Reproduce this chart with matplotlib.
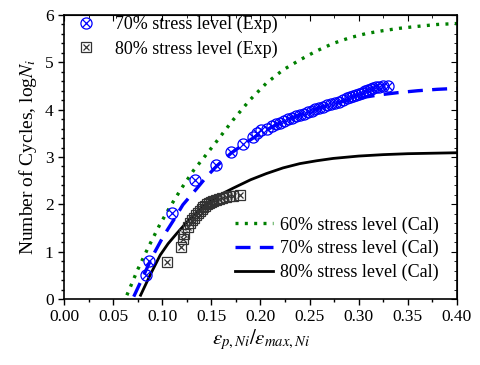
import matplotlib
matplotlib.use("Agg")
import matplotlib.pyplot as plt
from matplotlib.lines import Line2D
from matplotlib.ticker import MultipleLocator, FormatStrFormatter

plt.rcParams["font.family"] = ["Liberation Serif", "DejaVu Serif"]
plt.rcParams["mathtext.fontset"] = "stix"

# calculated curves (60 / 70 / 80 % stress level)
x_cal60 = [0.064, 0.075, 0.086, 0.097, 0.108, 0.120, 0.132, 0.144, 0.155, 0.172, 0.189,
           0.206, 0.223, 0.240, 0.257, 0.274, 0.291, 0.308, 0.325, 0.342, 0.360, 0.380, 0.400]
y_cal60 = [0.08, 0.62, 1.10, 1.55, 1.95, 2.35, 2.72, 3.03, 3.32, 3.78, 4.20,
           4.56, 4.84, 5.05, 5.24, 5.40, 5.52, 5.61, 5.67, 5.72, 5.76, 5.80, 5.82]

x_cal70 = [0.071, 0.080, 0.090, 0.101, 0.112, 0.121, 0.135, 0.145, 0.155, 0.170, 0.185, 0.200,
           0.215, 0.230, 0.245, 0.260, 0.275, 0.290, 0.305, 0.320, 0.340, 0.360, 0.380, 0.400]
y_cal70 = [0.05, 0.45, 0.90, 1.32, 1.68, 1.99, 2.33, 2.58, 2.80, 3.08, 3.30, 3.50,
           3.67, 3.81, 3.93, 4.04, 4.13, 4.20, 4.26, 4.31, 4.36, 4.40, 4.43, 4.45]

x_cal80 = [0.078, 0.088, 0.098, 0.106, 0.115, 0.124, 0.132, 0.143, 0.155, 0.172, 0.190,
           0.206, 0.223, 0.240, 0.257, 0.274, 0.300, 0.325, 0.350, 0.375, 0.400]
y_cal80 = [0.08, 0.52, 0.93, 1.17, 1.39, 1.60, 1.77, 1.97, 2.16, 2.34, 2.52,
           2.65, 2.77, 2.86, 2.92, 2.97, 3.02, 3.05, 3.07, 3.08, 3.09]

# experimental points
x_exp70 = [0.083, 0.087, 0.110, 0.133, 0.155, 0.170, 0.182, 0.192, 0.196, 0.201, 0.207,
           0.212, 0.216, 0.220, 0.224, 0.228, 0.232, 0.236, 0.240, 0.244, 0.248, 0.252,
           0.256, 0.260, 0.264, 0.268, 0.272, 0.276, 0.280, 0.284, 0.288, 0.291, 0.294,
           0.297, 0.300, 0.303, 0.306, 0.309, 0.312, 0.315, 0.318, 0.321, 0.325, 0.330]
y_exp70 = [0.51, 0.80, 1.81, 2.52, 2.83, 3.11, 3.27, 3.42, 3.50, 3.57, 3.60,
           3.66, 3.70, 3.72, 3.77, 3.80, 3.82, 3.86, 3.89, 3.91, 3.95, 3.98,
           4.02, 4.03, 4.06, 4.09, 4.12, 4.14, 4.17, 4.20, 4.24, 4.26, 4.28,
           4.31, 4.33, 4.36, 4.40, 4.41, 4.44, 4.45, 4.47, 4.48, 4.50, 4.50]

x_exp80 = [0.105, 0.119, 0.121, 0.122, 0.126, 0.128, 0.130, 0.132, 0.134, 0.136, 0.138,
           0.140, 0.142, 0.144, 0.146, 0.148, 0.150, 0.152, 0.155, 0.158, 0.161, 0.165,
           0.168, 0.172, 0.179]
y_exp80 = [0.79, 1.09, 1.26, 1.38, 1.52, 1.60, 1.66, 1.72, 1.78, 1.82, 1.86,
           1.90, 1.94, 1.97, 2.00, 2.03, 2.05, 2.08, 2.10, 2.12, 2.14, 2.16,
           2.17, 2.18, 2.20]

BLUE = "#0000ff"
GREY = "#333333"

fig = plt.figure(figsize=(4.8, 3.65), dpi=100)
ax = fig.add_axes([0.1333, 0.1808, 0.8187, 0.7781])

l60, = ax.plot(x_cal60, y_cal60, color="#008000", lw=2.4, ls=(0, (0.9, 1.9)))
l70, = ax.plot(x_cal70, y_cal70, color=BLUE, lw=2.4, ls=(0, (4.5, 2.8)))
l80, = ax.plot(x_cal80, y_cal80, color="black", lw=2.0)

ax.plot(x_exp70, y_exp70, ls="none", marker="o", ms=8, mfc="none", mec=BLUE, mew=0.9)
ax.plot(x_exp70, y_exp70, ls="none", marker="x", ms=5.5, mec=BLUE, mew=0.9)
ax.plot(x_exp80, y_exp80, ls="none", marker="s", ms=7, mfc="none", mec=GREY, mew=0.9)
ax.plot(x_exp80, y_exp80, ls="none", marker="x", ms=5, mec=GREY, mew=0.9)

ax.set_xlim(0, 0.40)
ax.set_ylim(0, 6)
ax.xaxis.set_major_locator(MultipleLocator(0.05))
ax.xaxis.set_minor_locator(MultipleLocator(0.025))
ax.yaxis.set_major_locator(MultipleLocator(1))
ax.yaxis.set_minor_locator(MultipleLocator(0.2))
ax.xaxis.set_major_formatter(FormatStrFormatter("%.2f"))
ax.tick_params(which="both", direction="out", labelsize=12.5, width=1)
ax.tick_params(which="major", length=4)
ax.tick_params(which="minor", length=2.5)
for sp in ax.spines.values():
    sp.set_linewidth(1.2)

# mirrored ticks on top/right, pointing inward
sec_x = ax.secondary_xaxis("top")
sec_x.xaxis.set_major_locator(MultipleLocator(0.05))
sec_x.xaxis.set_minor_locator(MultipleLocator(0.025))
sec_x.tick_params(which="both", direction="in", labeltop=False)
sec_x.tick_params(which="major", length=4)
sec_x.tick_params(which="minor", length=2.5)
sec_y = ax.secondary_yaxis("right")
sec_y.yaxis.set_major_locator(MultipleLocator(1))
sec_y.yaxis.set_minor_locator(MultipleLocator(0.2))
sec_y.tick_params(which="both", direction="in", labelright=False)
sec_y.tick_params(which="major", length=4)
sec_y.tick_params(which="minor", length=2.5)

ax.set_xlabel(r"$\varepsilon_{p,Ni}/\varepsilon_{max,Ni}$", fontsize=15, labelpad=1)
ax.set_ylabel(r"Number of Cycles, log$N_i$", fontsize=14, labelpad=4)

h70 = (Line2D([], [], ls="none", marker="o", ms=8, mfc="none", mec=BLUE, mew=0.9),
       Line2D([], [], ls="none", marker="x", ms=5.5, mec=BLUE, mew=0.9))
h80 = (Line2D([], [], ls="none", marker="s", ms=7, mfc="none", mec=GREY, mew=0.9),
       Line2D([], [], ls="none", marker="x", ms=5, mec=GREY, mew=0.9))
leg1 = ax.legend([h70, h80], ["70% stress level (Exp)", "80% stress level (Exp)"],
                 loc="upper left", bbox_to_anchor=(0.0, 1.035), frameon=False,
                 fontsize=13, handlelength=1.2, handletextpad=1.0, labelspacing=0.4,
                 borderaxespad=0.2)
ax.add_artist(leg1)
ax.legend([l60, l70, l80],
          ["60% stress level (Cal)", "70% stress level (Cal)", "80% stress level (Cal)"],
          loc="lower right", frameon=False, fontsize=13, handlelength=2.1,
          handletextpad=0.4, labelspacing=0.35, borderaxespad=0.6)

fig.savefig("out.png", dpi=100)
